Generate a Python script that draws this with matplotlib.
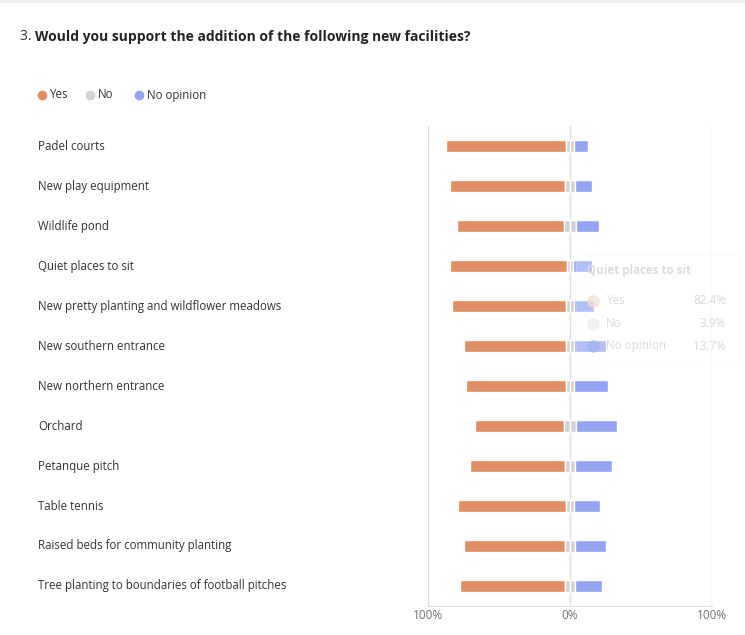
import matplotlib.pyplot as plt
from matplotlib.patches import FancyBboxPatch, Rectangle
from matplotlib.lines import Line2D
import matplotlib.transforms as mtransforms

plt.rcParams['font.family'] = ['Open Sans', 'DejaVu Sans']

facilities = [
    "Padel courts",
    "New play equipment",
    "Wildlife pond",
    "Quiet places to sit",
    "New pretty planting and wildflower meadows",
    "New southern entrance",
    "New northern entrance",
    "Orchard",
    "Petanque pitch",
    "Table tennis",
    "Raised beds for community planting",
    "Tree planting to boundaries of football pitches",
]
yes = [84.5, 80.7, 75.0, 82.4, 80.6, 72.2, 70.2, 62.4, 67.0, 76.0, 71.0, 73.4]
no = [6.0, 7.0, 8.8, 3.9, 5.1, 5.1, 5.8, 8.7, 7.5, 6.3, 7.5, 7.5]
no_opinion = [9.5, 12.3, 16.2, 13.7, 14.3, 22.7, 24.0, 28.9, 25.5, 17.7, 21.5, 19.1]

series_names = ["Yes", "No", "No opinion"]
colors = ["#e08f65", "#d3d3d3", "#93a5f2"]

W, H = 745, 635
fig = plt.figure(figsize=(W / 100, H / 100), dpi=100)
fig.patch.set_facecolor("white")


def fx(x):
    return x / W


def fy(y):
    return 1 - y / H


# thin page band at the top
fig.patches.append(Rectangle((0, fy(3)), 1, 3 / H, transform=fig.transFigure,
                             facecolor="#eef3f1", edgecolor="none", zorder=0))

ax = fig.add_axes([fx(428), fy(606), fx(712) - fx(428), fy(126) - fy(606)])
n = len(facilities)
pos = list(range(n))
h = 0.3

half_no = [v / 2 for v in no]
yes_left = [-(a + b) for a, b in zip(yes, half_no)]
ax.barh(pos, yes, left=yes_left, height=h, color=colors[0], edgecolor="white", linewidth=1, zorder=2)
ax.barh(pos, half_no, left=[-v for v in half_no], height=h, color=colors[1], edgecolor="white", linewidth=1, zorder=2)
ax.barh(pos, half_no, left=0, height=h, color=colors[1], edgecolor="white", linewidth=1, zorder=2)
ax.barh(pos, no_opinion, left=half_no, height=h, color=colors[2], edgecolor="white", linewidth=1, zorder=2)

ax.set_xlim(-100, 100)
ax.set_ylim(n - 0.5, -0.5)
for xv in (-100, 0, 100):
    ax.axvline(xv, color="#e0e0e0", lw=1, zorder=1)
for s in ("top", "left", "right"):
    ax.spines[s].set_visible(False)
ax.spines["bottom"].set_color("#e0e0e0")
ax.set_xticks([-100, 0, 100])
ax.set_xticklabels(["100%", "0%", "100%"])
ax.tick_params(axis="x", length=0, pad=2, labelsize=8.5, labelcolor="#707070")
ax.set_yticks([])

# category labels
trans = mtransforms.blended_transform_factory(fig.transFigure, ax.transData)
for i, name in enumerate(facilities):
    fig.text(fx(38), 0, name, transform=trans, ha="left", va="center",
             fontsize=8.3, color="#333333").set_y(i)

# title
t1 = fig.text(fx(20), fy(37), "3. ", fontsize=10, color="#333333", va="center")
fig.canvas.draw()
bb = t1.get_window_extent()
fig.text(bb.x1 / W, fy(37), "Would you support the addition of the following new facilities?",
         fontsize=10, fontweight="bold", color="#242424", va="center")

# legend
leg_x = [42, 90, 139]
for name, c, lx in zip(series_names, colors, leg_x):
    fig.add_artist(Line2D([fx(lx)], [fy(95)], marker="o", markersize=6, color=c,
                          linestyle="none", transform=fig.transFigure))
    fig.text(fx(lx + 8), fy(95), name, fontsize=8.3, color="#333333", va="center")

# fading tooltip for "Quiet places to sit"
idx = facilities.index("Quiet places to sit")
tip = FancyBboxPatch((fx(576), fy(365)), fx(740) - fx(576), fy(255) - fy(365),
                     boxstyle="round,pad=0,rounding_size=0.008", transform=fig.transFigure,
                     facecolor="white", alpha=0.3, edgecolor="#f2f2f2", linewidth=0.8, zorder=10)
fig.patches.append(tip)
fig.text(fx(587), fy(271), facilities[idx], fontsize=8.4, fontweight="bold", color="#dcdcdc",
         va="center", zorder=11)
tip_vals = [yes[idx], no[idx], no_opinion[idx]]
tip_marker = ["#f6dfd2", "#eeeeee", "#a5b1f0"]
for j, (name, v, mc) in enumerate(zip(series_names, tip_vals, tip_marker)):
    yy = fy(301 + j * 22.5)
    fig.add_artist(Line2D([fx(593)], [yy], marker="o", markersize=8, color=mc, alpha=0.7,
                          linestyle="none", transform=fig.transFigure, zorder=11))
    fig.text(fx(606), yy, name, fontsize=8.4, color="#dadada", va="center", zorder=11)
    fig.text(fx(726), yy, f"{v:.1f}%", fontsize=8.4, color="#dadada", va="center",
             ha="right", zorder=11)

fig.savefig("out.png", dpi=100)
